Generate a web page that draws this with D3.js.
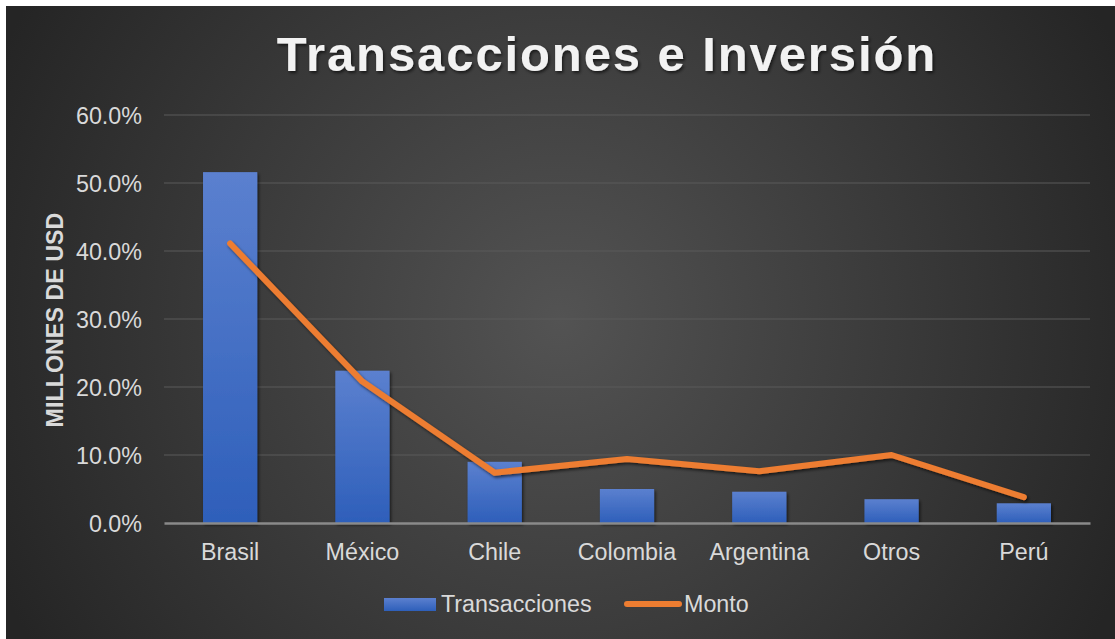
<!DOCTYPE html>
<html><head><meta charset="utf-8">
<script src="https://cdn.jsdelivr.net/npm/d3@7"></script>
<style>html,body{margin:0;padding:0;background:#fff;overflow:hidden}</style>
</head><body>
<script>
const categories = ["Brasil","México","Chile","Colombia","Argentina","Otros","Perú"];
const transacciones = [0.516, 0.224, 0.090, 0.050, 0.046, 0.035, 0.029];
const monto = [0.411, 0.208, 0.074, 0.094, 0.076, 0.100, 0.038];
const yTicks = [0, 0.1, 0.2, 0.3, 0.4, 0.5, 0.6];
const seriesNames = ["Transacciones","Monto"];

const W = 1115, H = 639;
const FONT = "Liberation Sans, Arial, sans-serif";
const svg = d3.select("body").append("svg").attr("width", W).attr("height", H);
const defs = svg.append("defs");
const rg = defs.append("radialGradient").attr("id","bg").attr("gradientUnits","userSpaceOnUse")
  .attr("cx",560).attr("cy",320).attr("r",620);
rg.append("stop").attr("offset","0%").attr("stop-color","#535353");
rg.append("stop").attr("offset","100%").attr("stop-color","#252525");
const bg = defs.append("linearGradient").attr("id","bar").attr("x1",0).attr("y1",0).attr("x2",0).attr("y2",1);
bg.append("stop").attr("offset","0%").attr("stop-color","#5b80cf");
bg.append("stop").attr("offset","100%").attr("stop-color","#2e5fba");
const sh = defs.append("filter").attr("id","sh").attr("x","-20%").attr("y","-20%").attr("width","140%").attr("height","140%");
sh.append("feDropShadow").attr("dx",1.5).attr("dy",2).attr("stdDeviation",1.5).attr("flood-color","#000").attr("flood-opacity",0.6);

svg.append("rect").attr("x",6).attr("y",6).attr("width",W-6).attr("height",H-6).attr("fill","url(#bg)");

const x = d3.scaleBand().domain(categories).range([164,1090]).paddingInner(0.59).paddingOuter(0.295);
const y = d3.scaleLinear().domain([0,0.6]).range([523,115]);

// gridlines
svg.append("g").selectAll("line").data(yTicks.slice(1)).join("line")
  .attr("x1",164).attr("x2",1090).attr("y1",d=>y(d)).attr("y2",d=>y(d))
  .attr("stroke","#5a5a5a").attr("stroke-width",1.2);

// y axis labels
const yAxis = d3.axisLeft(y).tickValues(yTicks).tickFormat(d3.format(".1%")).tickSize(0).tickPadding(22);
const ga = svg.append("g").attr("transform","translate(164,0)").call(yAxis);
ga.select(".domain").remove();
ga.selectAll("text").attr("fill","#d9d9d9").attr("font-family",FONT).attr("font-size",23.3).attr("dy","0.36em");

// bars
svg.append("g").selectAll("rect").data(transacciones).join("rect")
  .attr("x",(d,i)=>x(categories[i])).attr("width",x.bandwidth())
  .attr("y",d=>y(d)).attr("height",d=>y(0)-y(d))
  .attr("fill","url(#bar)").attr("filter","url(#sh)");

// x axis
const xAxis = d3.axisBottom(x).tickSize(0).tickPadding(20.5);
const gx = svg.append("g").attr("transform","translate(0,523)").call(xAxis);
gx.select(".domain").attr("stroke","#8a8a8a").attr("stroke-width",2.5);
gx.selectAll("text").attr("fill","#d9d9d9").attr("font-family",FONT).attr("font-size",23.3);

// line
const line = d3.line().x((d,i)=>x(categories[i])+x.bandwidth()/2).y(d=>y(d));
svg.append("path").datum(monto).attr("d",line).attr("fill","none")
  .attr("stroke","#ed7d31").attr("stroke-width",6).attr("stroke-linecap","round").attr("stroke-linejoin","round")
  .attr("filter","url(#sh)");

// title
svg.append("text").attr("x",607).attr("y",71).attr("text-anchor","middle")
  .attr("font-family",FONT).attr("font-weight","bold")
  .attr("font-size",49).attr("letter-spacing",1.9).attr("fill","#f2f2f2").attr("filter","url(#sh)")
  .text("Transacciones e Inversión");

// y title
svg.append("text").attr("transform","translate(63,320) rotate(-90)").attr("text-anchor","middle")
  .attr("font-family",FONT).attr("font-weight","bold")
  .attr("font-size",23.3).attr("fill","#d9d9d9").text("MILLONES DE USD");

// legend
const lg = svg.append("g");
lg.append("rect").attr("x",384).attr("y",598).attr("width",52).attr("height",13).attr("fill","url(#bar)");
lg.append("text").attr("x",441).attr("y",612).attr("fill","#d9d9d9")
  .attr("font-family",FONT).attr("font-size",23.3).text(seriesNames[0]);
lg.append("line").attr("x1",627).attr("x2",679).attr("y1",604).attr("y2",604)
  .attr("stroke","#ed7d31").attr("stroke-width",6).attr("stroke-linecap","round");
lg.append("text").attr("x",684).attr("y",612).attr("fill","#d9d9d9")
  .attr("font-family",FONT).attr("font-size",23.3).text(seriesNames[1]);
</script>
</body></html>
